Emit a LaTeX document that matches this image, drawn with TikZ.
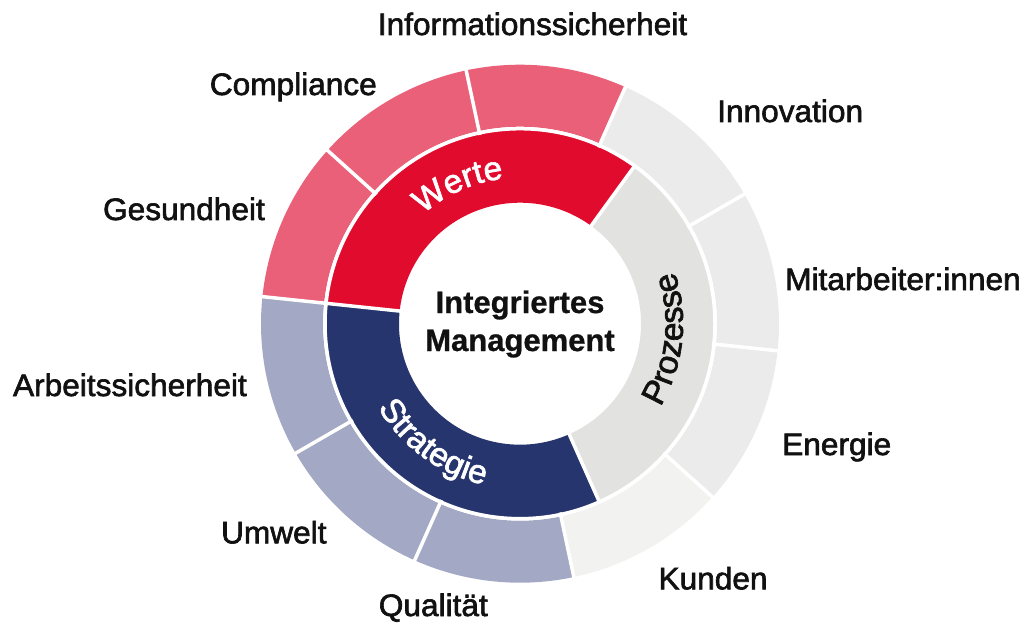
\documentclass[tikz,border=0pt]{standalone}
\usepackage{fontspec}
\setmainfont{Liberation Sans}
\newfontfamily\lblfont{Liberation Sans}[FakeBold=2,FakeStretch=1.02]
\newfontfamily\ctrfont{Liberation Sans Bold}[FakeBold=0.8]
\usetikzlibrary{decorations.text}
\definecolor{redIn}{HTML}{E00B2D}
\definecolor{redOut}{HTML}{E96078}
\definecolor{blueIn}{HTML}{27356E}
\definecolor{blueOut}{HTML}{A3A9C4}
\definecolor{greyIn}{HTML}{E2E2E0}
\definecolor{greyOut}{HTML}{EBEBEB}
\definecolor{greyLight}{HTML}{F2F2F0}
\definecolor{ink}{HTML}{111111}
\newcommand{\ringsec}[5]{\fill[#5] (#1:#3) arc[start angle=#1,end angle=#2,radius=#3] -- (#2:#4) arc[start angle=#2,end angle=#1,radius=#4] -- cycle;}
\tikzset{
  lbl/.style={font=\lblfont\fontsize{31}{37}\selectfont, text=ink, inner sep=0pt},
  ctr/.style={font=\ctrfont\fontsize{31}{37}\selectfont, text=ink, inner sep=0pt, anchor=base},
  sep/.style={draw=white, line width=3.5pt}
}
\begin{document}
\begin{tikzpicture}[x=1pt,y=1pt]
\useasboundingbox (0,0) rectangle (1035,622);
\begin{scope}[shift={(520,298.3)}]
  % outer ring
  \ringsec{138}{174}{197}{259}{redOut}
  \ringsec{102}{138}{197}{259}{redOut}
  \ringsec{66}{102}{197}{259}{redOut}
  \ringsec{30}{66}{197}{259}{greyOut}
  \ringsec{-6}{30}{197}{259}{greyOut}
  \ringsec{-42}{-6}{197}{259}{greyOut}
  \ringsec{-78}{-42}{197}{259}{greyLight}
  \ringsec{-114}{-78}{197}{259}{blueOut}
  \ringsec{-150}{-114}{197}{259}{blueOut}
  \ringsec{-186}{-150}{197}{259}{blueOut}
  % inner ring
  \ringsec{54}{174}{121}{194}{redIn}
  \ringsec{174}{294}{121}{194}{blueIn}
  \ringsec{294}{414}{121}{194}{greyIn}
  % separators
  \foreach \a in {174,138,102,66,30,-6,-42,-78,-114,-150}
    \draw[sep] (\a:193) -- (\a:262);
  \foreach \a in {54,174,294}
    \draw[sep] (\a:118) -- (\a:196);
  \draw[sep] (0,0) circle[radius=195];
  % curved labels
  \path[decorate, decoration={text along path, text align=center,
      text={|\lblfont\fontsize{33}{38}\selectfont\color{white}|Werte}}]
    (174:146) arc[start angle=174, end angle=54, radius=146];
  \path[decorate, decoration={text along path, text align=center,
      text={|\lblfont\fontsize{33}{38}\selectfont\color{white}|Strategie}}]
    (174:165) arc[start angle=174, end angle=294, radius=165];
  \path[decorate, decoration={text along path, text align=center,
      text={|\lblfont\fontsize{33}{38}\selectfont\color{ink}|Prozesse}}]
    (294:163) arc[start angle=294, end angle=414, radius=163];
\end{scope}
% centre
\node[ctr] (t1) at (520,309) {Integriertes};
\node[ctr] (t2) at (520,271) {Management};
% outer labels
\node[lbl, anchor=base] (info) at (532.5,587) {Informationssicherheit};
\node[lbl, anchor=base east] (comp) at (377,527) {Compliance};
\node[lbl, anchor=base east] (ges) at (265,402) {Gesundheit};
\node[lbl, anchor=base east] (arb) at (247,226) {Arbeitssicherheit};
\node[lbl, anchor=base west] (inno) at (717,500) {Innovation};
\node[lbl, anchor=base west] (mit) at (785,332) {Mitarbeiter:innen};
\node[lbl, anchor=base west] (ener) at (782,167) {Energie};
\node[lbl, anchor=base east] (umw) at (326.7,78.7) {Umwelt};
\node[lbl, anchor=base] (qual) at (433.3,6) {Qualität};
\node[lbl, anchor=base west] (kund) at (658.3,32.7) {Kunden};
\end{tikzpicture}
\end{document}
